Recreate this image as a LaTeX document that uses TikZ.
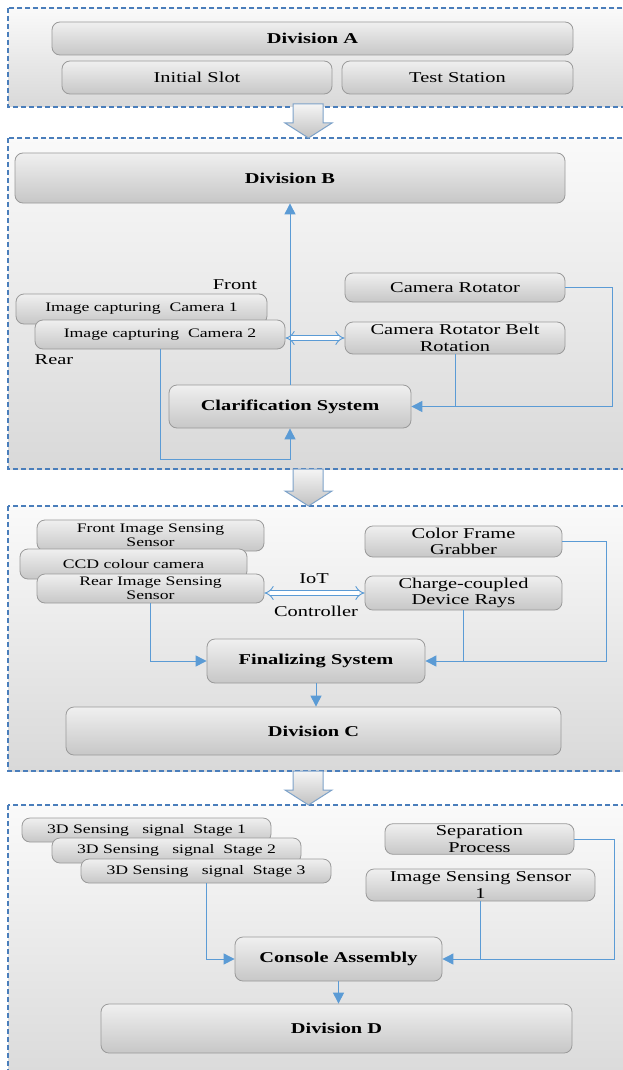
\documentclass[tikz,border=0pt]{standalone}
\usepackage{fontspec}
\setmainfont{Liberation Serif}[FakeStretch=1.36]
\usetikzlibrary{arrows.meta}
\definecolor{dashblue}{HTML}{4A7EBB}
\definecolor{connblue}{HTML}{5B9BD5}
\definecolor{boxline}{HTML}{9A9A9A}
\definecolor{arrline}{HTML}{7DA2C9}
\tikzset{
 panel/.style={draw=dashblue, line width=1.2pt, dash pattern=on 5pt off 3pt},
 panelfill/.style={top color=white!98!black, bottom color=white!85!black},
 box/.style={draw=boxline, line width=0.8pt, rounded corners=8pt, top color=white!94!black, bottom color=white!78!black, inner sep=2pt, align=center, text=black, font=\fontsize{15}{16.5}\selectfont},
 sbox/.style={box, font=\fontsize{13}{14.5}\selectfont},
 bbox/.style={box, font=\fontsize{15}{16.5}\selectfont\bfseries},
 lbl/.style={inner sep=0pt, text=black, font=\fontsize{15}{16.5}\selectfont},
 conn/.style={draw=connblue, line width=1pt},
 arr/.style={conn, -{Triangle[length=11pt,width=11pt]}},
 dbl/.style={draw=connblue, line width=0.9pt, double=white, double distance=4pt, {Implies}-{Implies}},
 blockarrow/.style={draw=arrline, line width=1pt, top color=white!96!black, bottom color=white!76!black}
}
\begin{document}
\begin{tikzpicture}[x=1pt,y=-1pt]
\useasboundingbox (0,0) rectangle (623,1070);
\clip (0,0) rectangle (623,1070);
% panels
\shade[panelfill] (8,8) rectangle (640,107);
\draw[panel] (8,8) rectangle (640,107);
\shade[panelfill] (8,138) rectangle (640,469);
\draw[panel] (8,138) rectangle (640,469);
\shade[panelfill] (8,506) rectangle (640,771);
\draw[panel] (8,506) rectangle (640,771);
\shade[panelfill] (8,805) rectangle (640,1090);
\draw[panel] (8,805) rectangle (640,1090);
% block arrows between panels
\path[blockarrow] (293,104) -- (323,104) -- (323,123) -- (332,123) -- (308.5,138) -- (285,123) -- (293,123) -- cycle;
\path[blockarrow] (293,469) -- (323,469) -- (323,491) -- (332,491) -- (308.5,506) -- (285,491) -- (293,491) -- cycle;
\path[blockarrow] (293,771) -- (323,771) -- (323,790) -- (332,790) -- (308.5,805) -- (285,790) -- (293,790) -- cycle;

% Division A
\node[bbox, minimum width=521pt, minimum height=33pt] (divA) at (312.5,38.5) {Division A};
\node[box, minimum width=270pt, minimum height=33pt] (init) at (197,77.5) {Initial Slot};
\node[box, minimum width=231pt, minimum height=33pt] (test) at (457.5,77.5) {Test Station};

% Division B
\node[bbox, minimum width=550pt, minimum height=50pt] (divB) at (290,178) {Division B};
\node[lbl] (front) at (235,285) {Front};
\node[sbox, minimum width=251pt, minimum height=30pt] (cam1) at (141.5,309) {Image capturing\ \ Camera 1};
\node[sbox, minimum width=250pt, minimum height=29pt] (cam2) at (160,334.5) {Image capturing\ \ Camera 2};
\node[lbl] (rear) at (54,360) {Rear};
\node[box, minimum width=220pt, minimum height=29pt] (rot) at (455,287.5) {Camera Rotator};
\node[box, minimum width=220pt, minimum height=32pt] (belt) at (455,338) {Camera Rotator Belt\\Rotation};
\node[bbox, minimum width=242pt, minimum height=43pt] (clar) at (290,406.5) {Clarification System};
\draw[arr] (clar.north) -- (clar.north |- divB.south);
\draw[arr] (cam2.south) |- (290,459) -- (clar.south);
\draw[arr] (rot.east) -- ++(47,0) |- (clar.east);
\draw[conn] (belt.south) -- (belt.south |- clar.east);
\draw[dbl] (cam2.east |- belt.west) -- (belt.west);

% Division C
\node[sbox, minimum width=227pt, minimum height=31pt] (fiss) at (150.5,535.5) {Front Image Sensing\\Sensor};
\node[sbox, minimum width=227pt, minimum height=30pt] (ccd) at (133.5,564) {CCD colour camera};
\node[sbox, minimum width=227pt, minimum height=29pt] (riss) at (150.5,588.5) {Rear Image Sensing\\Sensor};
\node[box, minimum width=197pt, minimum height=29pt] (cfg) at (463.5,541.5) {Color Frame\\Grabber};
\node[box, minimum width=197pt, minimum height=30pt] (rays) at (463.5,593) {Charge-coupled\\Device Rays};
\node[lbl] (iot) at (314,579) {IoT};
\node[lbl] (ctrl) at (316,611) {Controller};
\node[bbox, minimum width=218pt, minimum height=44pt] (fin) at (316,661) {Finalizing System};
\node[bbox, minimum width=495pt, minimum height=48pt] (divC) at (313.5,731) {Division C};
\draw[dbl] (riss.east |- rays.west) -- (rays.west);
\draw[arr] (riss.south) |- (fin.west);
\draw[arr] (cfg.east) -- ++(44,0) |- (fin.east);
\draw[conn] (rays.south) -- (rays.south |- fin.east);
\draw[arr] (fin.south) -- (fin.south |- divC.north);

% Division D
\node[sbox, minimum width=249pt, minimum height=24pt] (st1) at (146.5,830) {3D Sensing\ \ \ signal\ \ Stage 1};
\node[sbox, minimum width=249pt, minimum height=25pt] (st2) at (176.5,850.5) {3D Sensing\ \ \ signal\ \ Stage 2};
\node[sbox, minimum width=250pt, minimum height=24pt] (st3) at (206,871) {3D Sensing\ \ \ signal\ \ Stage 3};
\node[box, minimum width=189pt, minimum height=30pt] (sep) at (479.5,839) {Separation\\Process};
\node[box, minimum width=229pt, minimum height=32pt] (iss) at (480.5,885) {Image Sensing Sensor\\1};
\node[bbox, minimum width=207pt, minimum height=44pt] (cons) at (338.5,959) {Console Assembly};
\node[bbox, minimum width=471pt, minimum height=49pt] (divD) at (336.5,1028.5) {Division D};
\draw[arr] (st3.south) |- (cons.west);
\draw[arr] (sep.east) -- ++(40,0) |- (cons.east);
\draw[conn] (iss.south) -- (iss.south |- cons.east);
\draw[arr] (cons.south) -- (cons.south |- divD.north);
\end{tikzpicture}
\end{document}
